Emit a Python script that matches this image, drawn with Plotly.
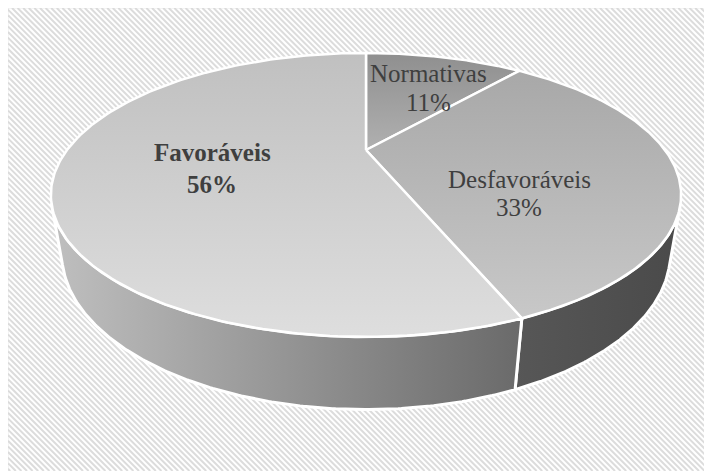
import numpy as np
import plotly.graph_objects as go

# ---------------- data ----------------
categories = ["Normativas", "Desfavoráveis", "Favoráveis"]
values = [11, 33, 56]          # percent
bold_label = [False, False, True]

# ---------------- style ----------------
W, H = 712, 471          # window size
OFF = 8                  # page body margin; figure drawn from (8, 8)
top_grad = ["#8f8f8f", "#a8a8a8", "#c0c0c0"]      # top face colour at the top
top_grad2 = ["#b0b0b0", "#c8c8c8", "#dedede"]     # top face colour at the bottom
wall_grad = ["#575757", "#575757", "#bfbfbf"]     # wall colour on the left
wall_grad2 = ["#4a4a4a", "#4a4a4a", "#6a6a6a"]    # wall colour on the right
text_color = "#3f3f3f"
font_family = "Times New Roman, Liberation Serif, DejaVu Serif, Noto Serif, serif"
font_size = 25

# camera (perspective view of a flat disc of radius 1)
view = dict(cx=366.0, cy=150.0, F=855.0, d=2.86, phi=np.deg2rad(25.3), h=0.215)

# label placement (pixel centres of each text line)
label_layout = {
    "Normativas": (428, 73, 102),
    "Desfavoráveis": (519, 179, 207),
    "Favoráveis": (212, 152, 184),
}


def project(x, y, z):
    c, s = np.cos(view["phi"]), np.sin(view["phi"])
    depth = y * c - z * s + view["d"]
    sx = view["cx"] + view["F"] * x / depth
    sy = view["cy"] - view["F"] * (y * s + z * c) / depth
    return sx, sy


def arc(a0, a1, z, n=200):
    a = np.linspace(a0, a1, n)
    return project(np.sin(a), np.cos(a), z)


fig = go.Figure()

# ---- hatched background (decoration) ----
hx, hy = [], []
fx0, fy0, fx1, fy1 = OFF, OFF, W, H
step = 5.6
for k in np.arange(-(fx1 - fy0), fy1 - fx0, step):
    # line y = x + k
    xa = max(fx0, fy0 - k)
    xb = min(fx1, fy1 - k)
    if xb > xa:
        hx += [xa, xb, None]
        hy += [xa + k, xb + k, None]
fig.add_trace(go.Scatter(x=hx, y=hy, mode="lines", line=dict(color="#dcdcdc", width=2),
                         hoverinfo="skip", showlegend=False))

# ---- slice angles (clockwise from 12 o'clock) ----
total = sum(values)
bounds = np.concatenate([[0], np.cumsum(values)]) / total * 2 * np.pi
c = np.cos(view["phi"])
vis_lim = np.arccos(-1.0 / (view["d"] * c))        # visible wall: a in (vis_lim, 2pi - vis_lim)
vis0, vis1 = vis_lim - 0.02, 2 * np.pi - vis_lim + 0.02

# ---- walls ----
for i in range(len(values)):
    a0, a1 = max(bounds[i], vis0), min(bounds[i + 1], vis1)
    if a1 <= a0:
        continue
    tx, ty = arc(a0, a1, 0.0)
    bx, by = arc(a1, a0, -view["h"])
    xs = np.concatenate([tx, bx, tx[:1]])
    ys = np.concatenate([ty, by, ty[:1]])
    fig.add_trace(go.Scatter(
        x=xs, y=ys, mode="lines", fill="toself",
        line=dict(color="white", width=3),
        fillgradient=dict(type="horizontal",
                          colorscale=[[0, wall_grad[i]], [1, wall_grad2[i]]],
                          start=float(xs.min()), stop=float(xs.max())),
        hoverinfo="skip", showlegend=False))

# ---- top faces ----
for i in range(len(values)):
    ax, ay = arc(bounds[i], bounds[i + 1], 0.0)
    ox, oy = project(0.0, 0.0, 0.0)
    xs = np.concatenate([[ox], ax, [ox]])
    ys = np.concatenate([[oy], ay, [oy]])
    fig.add_trace(go.Scatter(
        x=xs, y=ys, mode="lines", fill="toself",
        line=dict(color="white", width=2.5),
        fillgradient=dict(type="vertical",
                          colorscale=[[0, top_grad[i]], [1, top_grad2[i]]],
                          start=float(ys.min()), stop=float(ys.max())),
        hoverinfo="skip", showlegend=False))

# ---- labels ----
for cat, val, b in zip(categories, values, bold_label):
    lx, ly1, ly2 = label_layout[cat]
    for txt, ly in ((cat, ly1), (f"{val}%", ly2)):
        if b:
            txt = f"<b>{txt}</b>"
        fig.add_annotation(x=lx, y=ly, xref="x", yref="y", text=txt, showarrow=False,
                           xanchor="center", yanchor="middle",
                           font=dict(family=font_family, size=font_size, color=text_color))

# frame
fig.add_shape(type="rect", x0=OFF - 0.5, y0=OFF - 0.5, x1=W + 2, y1=H + 2, xref="x", yref="y",
              line=dict(color="#d4d4d4", width=1.5), layer="above")

fig.update_layout(
    width=W - OFF, height=H - OFF, margin=dict(l=0, r=0, t=0, b=0),
    paper_bgcolor="white", plot_bgcolor="white",
    font=dict(family=font_family),
    xaxis=dict(range=[OFF, W], visible=False, fixedrange=True),
    yaxis=dict(range=[H, OFF], visible=False, fixedrange=True),
    showlegend=False,
)
fig.write_html("out.html")
